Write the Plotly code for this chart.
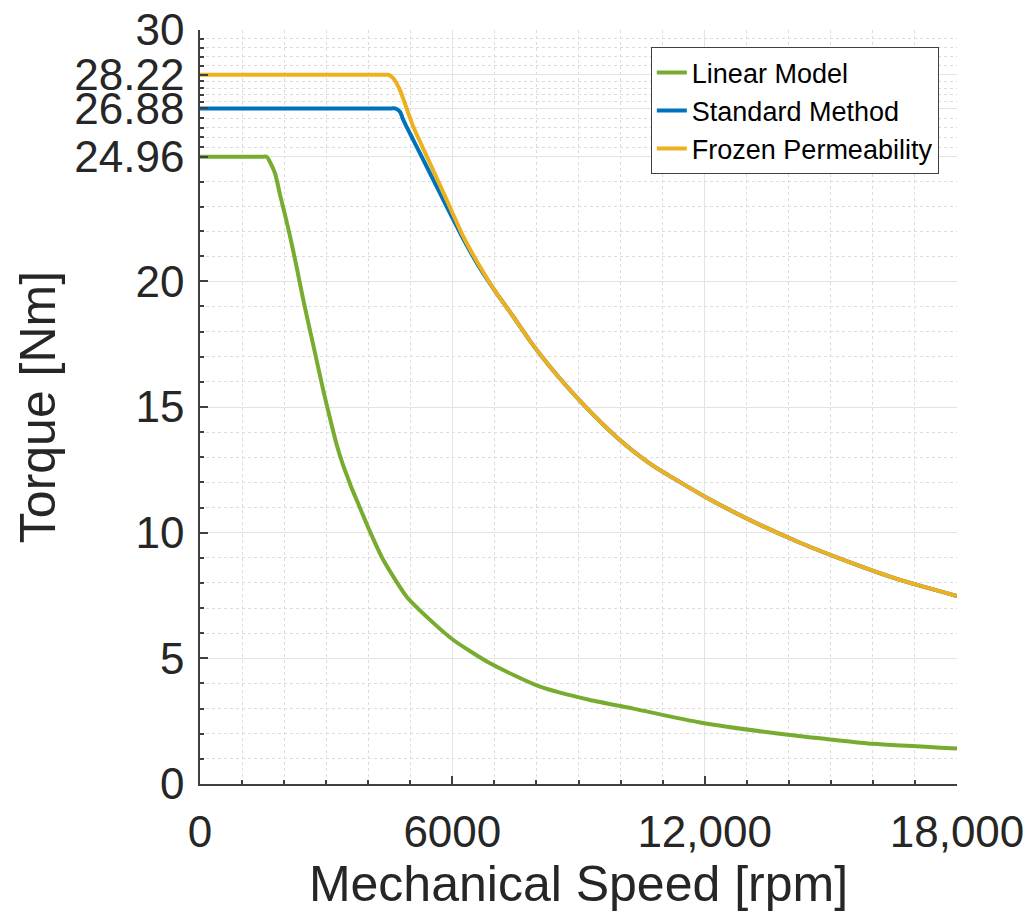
import plotly.graph_objects as go

# ---- data ----
linear_speed = [0, 800, 1500, 1585, 1783, 1902, 2021, 2140, 2300, 2457, 2695, 2933, 3091, 3250,
                3400, 3500, 3600, 3725, 4042, 4359, 4914, 5469, 6024, 6896, 8085, 9273, 10303,
                11890, 14030, 15060, 16010, 18000]
linear_torque = [24.96, 24.96, 24.96, 24.96, 24.30, 23.45, 22.65, 21.80, 20.55, 19.25, 17.45, 15.65, 14.55, 13.50,
                 12.70, 12.25, 11.80, 11.30, 10.04, 8.91, 7.45, 6.53, 5.73, 4.80, 3.87, 3.34, 3.0,
                 2.45, 1.95, 1.76, 1.60, 1.41]

standard_speed = [0, 2300, 4550, 4637, 4755, 4834, 5072, 5469, 5866, 6104, 6262, 6658, 7055, 7451, 7880,
                  8322, 9114, 9907, 10700, 12008, 13078, 14267, 15456, 16645, 18000]
standard_torque = [26.88, 26.88, 26.88, 26.88, 26.75, 26.42, 25.62, 24.30, 22.97, 22.20, 21.68, 20.52, 19.52, 18.59, 17.55,
                   16.60, 15.10, 13.80, 12.75, 11.43, 10.50, 9.60, 8.82, 8.12, 7.48]

frozen_speed = [0, 2200, 4400, 4477, 4596, 4755, 5072, 5469, 5866, 6262, 6658, 7055, 7451, 7880,
                8322, 9114, 9907, 10700, 12008, 13078, 14267, 15456, 16645, 18000]
frozen_torque = [28.22, 28.22, 28.22, 28.22, 28.08, 27.61, 26.15, 24.70, 23.24, 21.78, 20.58, 19.52, 18.59, 17.55,
                 16.60, 15.10, 13.80, 12.75, 11.43, 10.50, 9.60, 8.82, 8.12, 7.48]

series_names = ["Linear Model", "Standard Method", "Frozen Permeability"]
series_colors = ["#77AC30", "#0072BD", "#EDB120"]

x_ticks = [0, 6000, 12000, 18000]
x_tick_labels = ["0", "6000", "12,000", "18,000"]
y_ticks = [0, 5, 10, 15, 20, 24.96, 26.88, 28.22, 30]
y_tick_labels = ["0", "5", "10", "15", "20", "24.96", "26.88", "28.22", "30"]

# minor y ticks: 4 subdivisions between consecutive major ticks (MATLAB style)
y_minor = []
for a, b in zip(y_ticks[:-1], y_ticks[1:]):
    for k in range(1, 5):
        y_minor.append(a + (b - a) * k / 5)

FONT = "Liberation Sans, Arial, Helvetica, sans-serif"
TXT = "#262626"

fig = go.Figure()
for xs, ys, name, col in zip([linear_speed, standard_speed, frozen_speed],
                             [linear_torque, standard_torque, frozen_torque],
                             series_names, series_colors):
    fig.add_trace(go.Scatter(x=xs, y=ys, mode="lines", name=name,
                             line=dict(color=col, width=4, shape="spline", smoothing=0.6)))

axis_common = dict(
    showline=True, linecolor="#404040", linewidth=1.5,
    showgrid=True, gridcolor="#e3e3e3", gridwidth=1,
    zeroline=False, ticks="inside", ticklen=8, tickcolor="#404040", tickwidth=1.5,
    tickfont=dict(family=FONT, size=44, color=TXT),
    ticklabeloverflow="allow",
    mirror=False,
)

fig.update_xaxes(
    **axis_common,
    range=[0, 18000], tickmode="array", tickvals=x_ticks, ticktext=x_tick_labels,
    ticklabelstandoff=8,
    minor=dict(tickmode="linear", tick0=0, dtick=1000, showgrid=True, gridcolor="#dcdcdc",
               griddash="dot", gridwidth=1, ticks="inside", ticklen=4, tickcolor="#404040"),
    title=dict(text="Mechanical Speed [rpm]", font=dict(family=FONT, size=50, color=TXT), standoff=2),
    automargin=False,
)
fig.update_yaxes(
    **axis_common,
    range=[0, 30], tickmode="array", tickvals=y_ticks, ticktext=y_tick_labels,
    ticklabelstandoff=5,
    minor=dict(tickmode="array", tickvals=y_minor, showgrid=True, gridcolor="#dcdcdc",
               griddash="dot", gridwidth=1, ticks="inside", ticklen=4, tickcolor="#404040"),
    title=dict(text="Torque [Nm]", font=dict(family=FONT, size=50, color=TXT), standoff=3),
    automargin=False,
)

# page body adds an 8px offset; margins compensate so the axes land where the reference has them
fig.update_layout(
    width=1032, height=918,
    margin=dict(l=192, r=83, t=22, b=142),
    paper_bgcolor="white", plot_bgcolor="white",
    font=dict(family=FONT, color=TXT),
    legend=dict(
        x=0.976, y=0.977, xanchor="right", yanchor="top",
        bgcolor="white", bordercolor="#404040", borderwidth=1,
        font=dict(family=FONT, size=27, color="black"),
        tracegroupgap=0,
    ),
    showlegend=True,
)

fig.write_html("out.html")
